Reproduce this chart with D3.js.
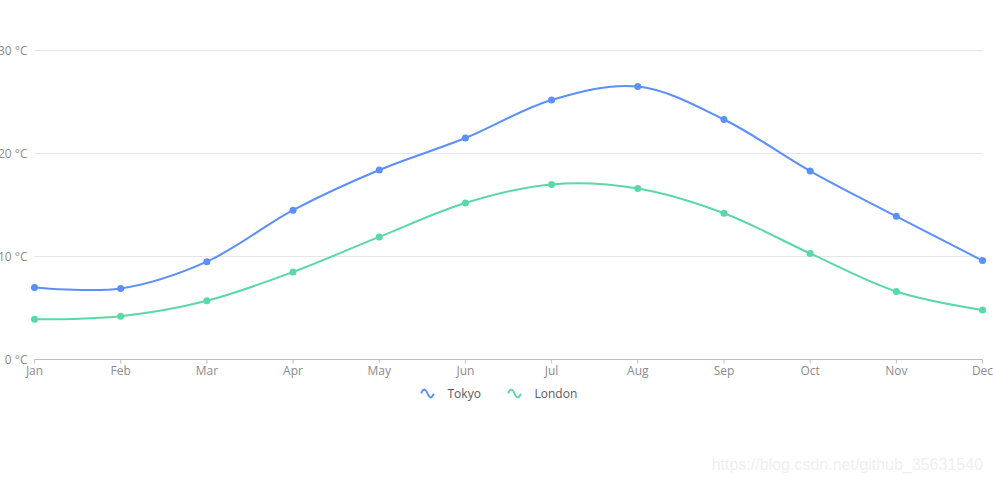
<!DOCTYPE html>
<html>
<head>
<meta charset="utf-8">
<script src="https://cdn.jsdelivr.net/npm/d3@7"></script>
<style>
  body { margin: 0; background: #fff; }
  svg { display: block; }
  .tick text { font-family: "Open Sans", "Noto Sans", sans-serif; }
</style>
</head>
<body>
<div id="chart"></div>
<script>
const months = ["Jan", "Feb", "Mar", "Apr", "May", "Jun", "Jul", "Aug", "Sep", "Oct", "Nov", "Dec"];
const tokyo = [7.0, 6.9, 9.5, 14.5, 18.4, 21.5, 25.2, 26.5, 23.3, 18.3, 13.9, 9.6];
const london = [3.9, 4.2, 5.7, 8.5, 11.9, 15.2, 17.0, 16.6, 14.2, 10.3, 6.6, 4.8];
const seriesNames = ["Tokyo", "London"];
const colors = ["#5B8FF9", "#5AD8A6"];
const yTicks = [0, 10, 20, 30];

const w = 993, h = 482;
const padL = 34, padR = 982, padT = 50, padB = 359;

const svg = d3.select("#chart").append("svg")
  .attr("width", w)
  .attr("height", h);

const root = svg.append("g").attr("transform", "translate(0.5,0.5)");

const x = d3.scalePoint().domain(months).range([padL, padR]);
const y = d3.scaleLinear().domain([0, 30]).range([padB, padT]);

// grid
root.append("g")
  .selectAll("line")
  .data(yTicks.filter(d => d > 0))
  .enter()
  .append("line")
  .attr("x1", padL).attr("x2", padR)
  .attr("y1", d => y(d)).attr("y2", d => y(d))
  .attr("stroke", "#e6e6e6")
  .attr("stroke-width", 1);

// y labels
root.append("g")
  .selectAll("text")
  .data(yTicks)
  .enter()
  .append("text")
  .attr("x", 27)
  .attr("y", d => y(d))
  .attr("dy", "0.35em")
  .attr("text-anchor", "end")
  .style("font-family", "'Open Sans', 'Noto Sans', sans-serif")
  .style("font-size", "12px")
  .attr("fill", "#8c8c8c")
  .text(d => d + " °C");

// x axis
const xAxis = root.append("g")
  .attr("transform", "translate(0," + padB + ")")
  .call(d3.axisBottom(x).tickSize(4).tickPadding(3).tickSizeOuter(0).offset(0));
xAxis.select(".domain").attr("stroke", "#bfbfbf");
xAxis.selectAll(".tick line").attr("stroke", "#bfbfbf");
xAxis.selectAll(".tick text")
  .attr("fill", "#8c8c8c")
  .style("font-size", "12px");

const line = d3.line()
  .x((d, i) => x(months[i]))
  .y(d => y(d))
  .curve(d3.curveCatmullRom.alpha(0.5));

[tokyo, london].forEach((vals, k) => {
  root.append("path")
    .datum(vals)
    .attr("fill", "none")
    .attr("stroke", colors[k])
    .attr("stroke-width", 2)
    .attr("d", line);
  root.append("g")
    .selectAll("circle")
    .data(vals)
    .enter()
    .append("circle")
    .attr("cx", (d, i) => x(months[i]))
    .attr("cy", d => y(d))
    .attr("r", 3.5)
    .attr("fill", colors[k]);
});

// legend
const legendX = [420, 507];
const legend = root.append("g");
seriesNames.forEach((name, k) => {
  const g = legend.append("g").attr("transform", "translate(" + legendX[k] + ",393)");
  g.append("path")
    .attr("d", "M1,-1 C3,-5 5,-5 7,0 C9,5 11,5 13,1")
    .attr("fill", "none")
    .attr("stroke", colors[k])
    .attr("stroke-width", 2)
    .attr("stroke-linecap", "round");
  g.append("text")
    .attr("x", 27)
    .attr("dy", "0.35em")
    .style("font-family", "'Open Sans', 'Noto Sans', sans-serif")
    .style("font-size", "12px")
    .attr("fill", "#595959")
    .text(name);
});

// watermark
svg.append("text")
  .attr("x", 983)
  .attr("y", 470)
  .attr("text-anchor", "end")
  .style("font-family", "'Liberation Sans', Arial, sans-serif")
  .style("font-size", "16px")
  .attr("fill", "#efefef")
  .text("https://blog.csdn.net/github_35631540");
</script>
</body>
</html>
